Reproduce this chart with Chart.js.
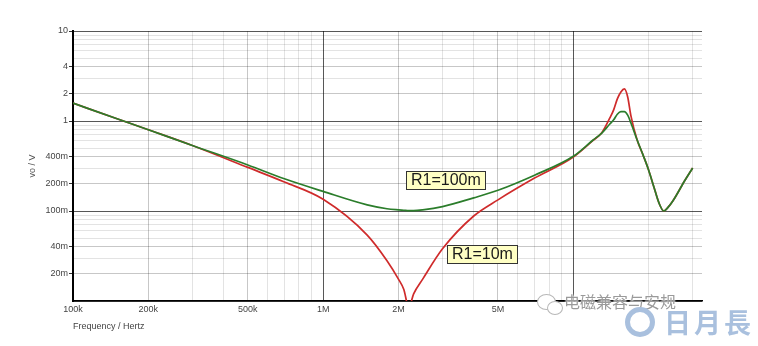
<!DOCTYPE html>
<html>
<head>
<meta charset="utf-8">
<script src="https://cdn.jsdelivr.net/npm/chart.js@4.4.0/dist/chart.umd.min.js"></script>
<style>
    body { margin: 0; background: #fff; }
    #wrap { position: relative; width: 758px; height: 346px; overflow: hidden; }
    canvas { position: absolute; left: 0; top: 0; }
    .wm-text {
        position: absolute; left: 564px; top: 289px;
        font: 16px "Noto Sans CJK SC", sans-serif; color: #9a9a9a;
        text-shadow: 0 0 2px #fff, 0 0 2px #fff;
    }
    .wm-logo {
        position: absolute; left: 664px; top: 302px;
        font: bold 27px "Noto Sans CJK SC", sans-serif; color: #a9c0de;
        letter-spacing: 3px;
    }
    .wm-ring {
        position: absolute; left: 625px; top: 307px; width: 20px; height: 20px;
        border: 5px solid #a9c0de; border-radius: 50%;
    }
    .wx1 {
        position: absolute; left: 537px; top: 294px; width: 17px; height: 14px;
        border: 1.5px solid #b8b8b8; border-radius: 50%; background: #fff;
    }
    .wx2 {
        position: absolute; left: 547px; top: 301px; width: 14px; height: 12px;
        border: 1.5px solid #b8b8b8; border-radius: 50%; background: #fff;
    }
</style>
</head>
<body>
<div id="wrap">
    <canvas id="bode" width="758" height="346"></canvas>
    <div class="wx1"></div><div class="wx2"></div>
    <div class="wm-text">电磁兼容与安规</div>
    <div class="wm-ring"></div>
    <div class="wm-logo">日月長</div>
</div>
<script>
// frequency points (Hz)
const freq = [100e3, 150e3, 200e3, 300e3, 500e3, 700e3, 1e6, 1.5e6, 1.8e6, 2e6, 2.1e6, 2.2e6, 2.3e6, 2.5e6,
    3e6, 4e6, 5e6, 7e6, 10e6, 12e6, 13e6, 14e6, 14.5e6, 15e6, 15.5e6, 16e6, 16.5e6, 17e6, 18e6, 19e6,
    20e6, 21e6, 22e6, 23e6, 24e6, 25e6, 28e6, 30e6];

// vo (V), R1 = 100m
const voR100m = [1.58, 1.06, 0.80, 0.535, 0.325, 0.228, 0.165, 0.117, 0.106, 0.103, 0.102, 0.101, 0.101, 0.103,
    0.112, 0.140, 0.170, 0.250, 0.405, 0.615, 0.735, 0.926, 1.03, 1.19, 1.27, 1.27, 1.16, 0.95, 0.615, 0.42,
    0.286, 0.185, 0.123, 0.100, 0.111, 0.129, 0.221, 0.300];

// vo (V), R1 = 10m
const voR10m = [1.58, 1.06, 0.80, 0.535, 0.305, 0.21, 0.135, 0.054, 0.028, 0.0175, 0.0135, 0.0085, 0.012, 0.0175,
    0.038, 0.088, 0.133, 0.232, 0.398, 0.61, 0.74, 1.08, 1.33, 1.76, 2.1, 2.27, 1.85, 1.14, 0.615, 0.42,
    0.286, 0.185, 0.123, 0.100, 0.111, 0.129, 0.221, 0.300];

const xTickValues = [1e5, 2e5, 5e5, 1e6, 2e6, 5e6];
const xTickLabels = ['100k', '200k', '500k', '1M', '2M', '5M'];
const yTickValues = [10, 4, 2, 1, 0.4, 0.2, 0.1, 0.04, 0.02];
const yTickLabels = ['10', '4', '2', '1', '400m', '200m', '100m', '40m', '20m'];

// curve labels: [text, freq at left edge, value at middle]
const curveLabels = [
    ['R1=100m', 2.14e6, 0.222],
    ['R1=10m', 3.12e6, 0.033],
];

main();

function main() {
    drawBode();
}

function gridValues(lo, hi) {
    const out = [];
    for (let d = lo; d < hi * 1.001; d *= 10) {
        for (let m = 1; m <= 9; m++) {
            const v = m * d;
            if (v <= hi * 1.001) out.push(v);
        }
    }
    return out;
}

function findLabel(values, labels, v) {
    for (let i = 0; i < values.length; i++) {
        if (Math.abs(values[i] - v) / values[i] < 1e-6) return labels[i];
    }
    return '';
}

function isDecade(v) {
    const l = Math.log10(v);
    return Math.abs(l - Math.round(l)) < 1e-6;
}

// semi-transparent so crossings do not cut the darker lines
function gridColor(values, labels) {
    return (c) => {
        const v = c.tick ? c.tick.value : 0;
        if (isDecade(v)) return 'rgba(0,0,0,0.66)';
        if (findLabel(values, labels, v)) return 'rgba(0,0,0,0.22)';
        return 'rgba(0,0,0,0.11)';
    };
}

function drawBode() {
    const labelBoxes = {
        id: 'labelBoxes',
        afterDatasetsDraw(chart) {
            const c = chart.ctx;
            const xs = chart.scales.x, ys = chart.scales.y;
            c.save();
            c.font = '16px "Liberation Sans", Arial, sans-serif';
            c.textBaseline = 'middle';
            curveLabels.forEach(([text, f, v]) => {
                const x = Math.round(xs.getPixelForValue(f)) + 0.5;
                const y = Math.round(ys.getPixelForValue(v));
                const w = Math.round(c.measureText(text).width) + 9;
                c.fillStyle = '#ffffc4';
                c.fillRect(x, y - 9, w, 18);
                c.strokeStyle = '#333';
                c.lineWidth = 1;
                c.strokeRect(x, y - 9 + 0.5, w, 18);
                c.fillStyle = '#1a1a1a';
                c.fillText(text, x + 4.5, y + 1);
            });
            c.restore();
        }
    };

    const ctx = document.getElementById('bode');
    new Chart(ctx, {
        type: 'line',
        data: {
            datasets: [
                {
                    label: 'R1=100m',
                    data: freq.map((f, i) => ({ x: f, y: voR100m[i] })),
                    borderColor: '#2b7d2b',
                    borderWidth: 1.7,
                    pointRadius: 0,
                    cubicInterpolationMode: 'monotone',
                },
                {
                    label: 'R1=10m',
                    data: freq.map((f, i) => ({ x: f, y: voR10m[i] })),
                    borderColor: '#cf2b2b',
                    borderWidth: 1.7,
                    pointRadius: 0,
                    cubicInterpolationMode: 'monotone',
                },
            ],
        },
        options: {
            responsive: false,
            animation: false,
            devicePixelRatio: 1,
            layout: { padding: { left: 0, top: 31, right: 56, bottom: 0 } },
            plugins: {
                legend: { display: false },
                tooltip: { enabled: false },
            },
            scales: {
                x: {
                    type: 'logarithmic',
                    min: 1e5,
                    max: 3.27e7,
                    afterBuildTicks: (s) => { s.ticks = gridValues(1e5, 3e7).map(v => ({ value: v })); },
                    afterFit: (s) => { s.height = 45; },
                    ticks: {
                        autoSkip: false,
                        maxRotation: 0,
                        padding: 3,
                        color: '#444',
                        font: { family: '"Liberation Sans", Arial, sans-serif', size: 9 },
                        callback: (v) => findLabel(xTickValues, xTickLabels, v),
                    },
                    grid: {
                        drawTicks: false,
                        color: gridColor(xTickValues, xTickLabels),
                    },
                    border: { color: '#000', width: 1.5 },
                    title: {
                        display: true,
                        text: 'Frequency / Hertz',
                        align: 'start',
                        color: '#444',
                        font: { family: '"Liberation Sans", Arial, sans-serif', size: 9 },
                        padding: { top: 0, bottom: 14 },
                    },
                },
                y: {
                    type: 'logarithmic',
                    min: 0.01,
                    max: 10,
                    afterBuildTicks: (s) => { s.ticks = gridValues(0.01, 10).map(v => ({ value: v })); },
                    afterFit: (s) => { s.width = 73; },
                    ticks: {
                        autoSkip: false,
                        padding: 1,
                        color: '#444',
                        font: { family: '"Liberation Sans", Arial, sans-serif', size: 9 },
                        callback: (v) => findLabel(yTickValues, yTickLabels, v),
                    },
                    grid: {
                        tickLength: 4,
                        tickColor: (c) => (c.tick && findLabel(yTickValues, yTickLabels, c.tick.value)) ? '#333' : 'rgba(0,0,0,0)',
                        color: gridColor(yTickValues, yTickLabels),
                    },
                    border: { color: '#000', width: 2 },
                    title: {
                        display: true,
                        text: 'vo / V',
                        color: '#555',
                        font: { family: '"Liberation Sans", Arial, sans-serif', size: 9 },
                        padding: { top: 27, bottom: 0 },
                    },
                },
            },
        },
        plugins: [labelBoxes],
    });
}
</script>
</body>
</html>
